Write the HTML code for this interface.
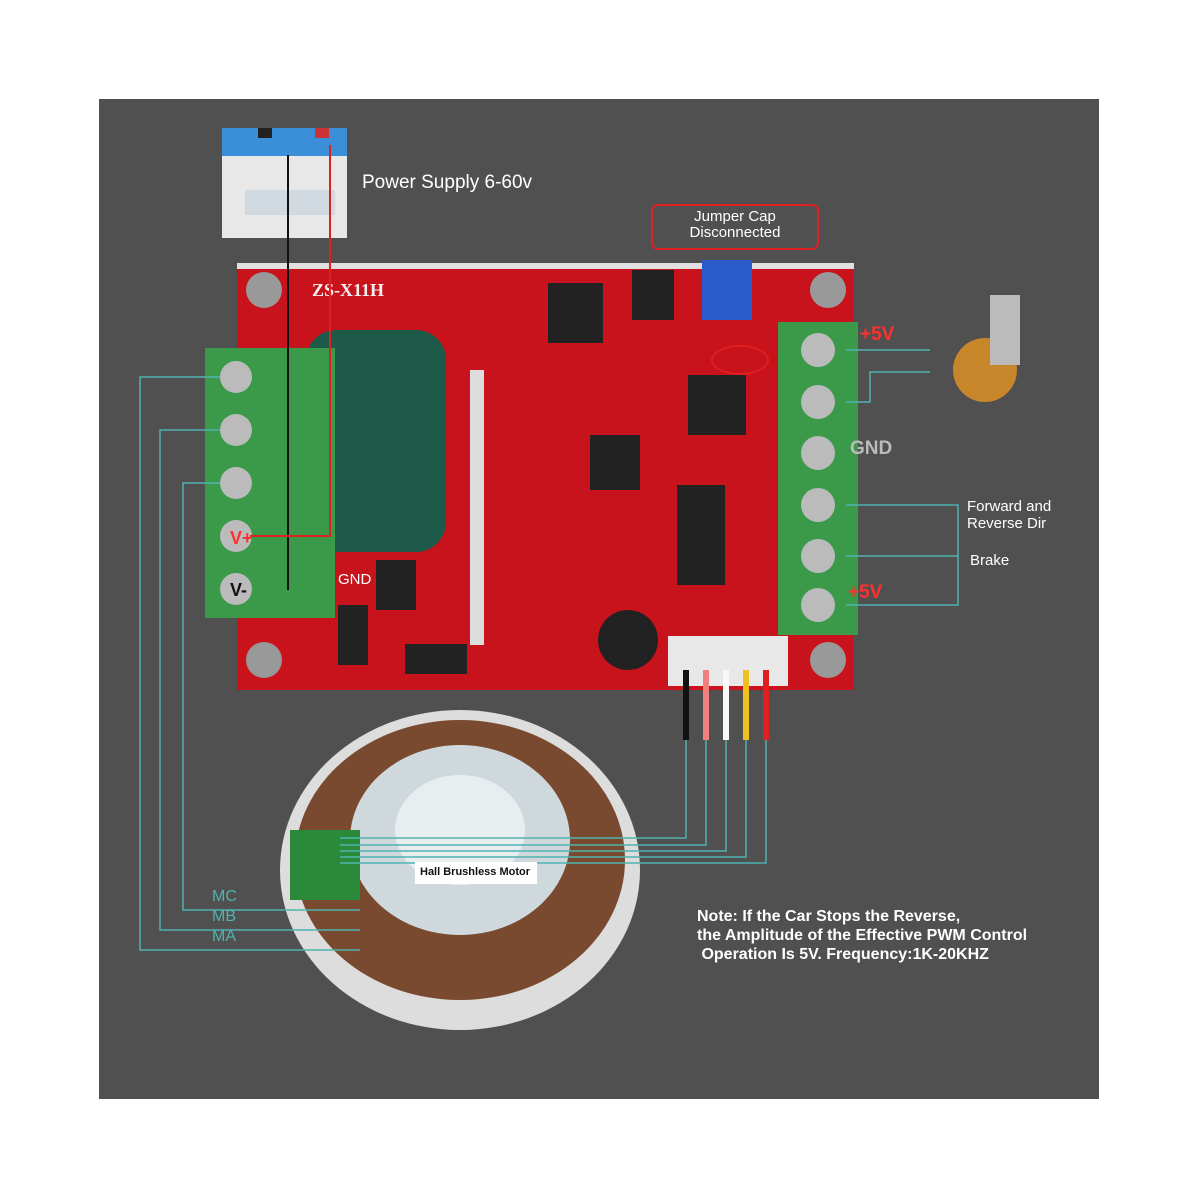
<!DOCTYPE html>
<html><head><meta charset="utf-8"><style>
body{margin:0;width:1200px;height:1200px;background:#fff;position:relative;overflow:hidden;font-family:"Liberation Sans",sans-serif}
.a{position:absolute}
</style></head><body>
<div class="a" style="left:99px;top:99px;width:1000px;height:1000px;background:#505050"></div>
<svg class="a" style="left:0;top:0" width="1200" height="1200">
<!-- battery -->
<rect x="222" y="140" width="125" height="98" fill="#e8e8e8"/>
<rect x="222" y="128" width="125" height="28" fill="#3a8fd8"/>
<rect x="245" y="190" width="90" height="25" fill="#d0d8e0"/>
<rect x="258" y="128" width="14" height="10" fill="#222"/>
<rect x="315" y="128" width="14" height="10" fill="#c33"/>
<!-- PCB -->
<rect x="237" y="263" width="617" height="427" fill="#c8121c"/>
<rect x="237" y="263" width="617" height="6" fill="#e0e0e0"/>
<circle cx="264" cy="290" r="18" fill="#999"/><circle cx="828" cy="290" r="18" fill="#999"/>
<circle cx="264" cy="660" r="18" fill="#999"/><circle cx="828" cy="660" r="18" fill="#999"/>
<text x="312" y="296" fill="#f0f0f0" font-size="18" font-family="Liberation Serif" font-weight="bold">ZS-X11H</text>
<!-- capacitor -->
<rect x="306" y="330" width="140" height="222" rx="30" fill="#1d5a4a"/>
<!-- chips -->
<rect x="548" y="283" width="55" height="60" fill="#222"/>
<rect x="590" y="435" width="50" height="55" fill="#222"/>
<rect x="677" y="485" width="48" height="100" fill="#222"/>
<rect x="688" y="375" width="58" height="60" fill="#222"/>
<rect x="632" y="270" width="42" height="50" fill="#222"/>
<rect x="702" y="260" width="50" height="60" fill="#2a5bc8"/>
<rect x="470" y="370" width="14" height="275" fill="#ddd"/>
<circle cx="628" cy="640" r="30" fill="#222"/>
<rect x="376" y="560" width="40" height="50" fill="#222"/>
<rect x="405" y="644" width="62" height="30" fill="#222"/>
<rect x="338" y="605" width="30" height="60" fill="#222"/>
<text x="338" y="584" fill="#fff" font-size="15">GND</text>
<!-- left terminal -->
<rect x="205" y="348" width="130" height="270" fill="#3a9a4a"/>
<g fill="#bbb"><circle cx="236" cy="377" r="16"/><circle cx="236" cy="430" r="16"/><circle cx="236" cy="483" r="16"/><circle cx="236" cy="536" r="16"/><circle cx="236" cy="589" r="16"/></g>
<text x="230" y="544" fill="#ff3030" font-size="18" font-weight="bold">V+</text>
<text x="230" y="596" fill="#111" font-size="18" font-weight="bold">V-</text>
<!-- right terminal -->
<rect x="778" y="322" width="80" height="313" fill="#3a9a4a"/>
<g fill="#bbb"><circle cx="818" cy="350" r="17"/><circle cx="818" cy="402" r="17"/><circle cx="818" cy="453" r="17"/><circle cx="818" cy="505" r="17"/><circle cx="818" cy="556" r="17"/><circle cx="818" cy="605" r="17"/></g>
<!-- hall connector -->
<rect x="668" y="636" width="120" height="50" fill="#e8e8e8"/>
<g stroke-width="6"><line x1="686" y1="670" x2="686" y2="740" stroke="#111"/><line x1="706" y1="670" x2="706" y2="740" stroke="#f08080"/><line x1="726" y1="670" x2="726" y2="740" stroke="#f8f8f8"/><line x1="746" y1="670" x2="746" y2="740" stroke="#f0c020"/><line x1="766" y1="670" x2="766" y2="740" stroke="#e02020"/></g>
<!-- motor -->
<ellipse cx="460" cy="870" rx="180" ry="160" fill="#ddd"/>
<ellipse cx="460" cy="860" rx="165" ry="140" fill="#7a4a30"/>
<ellipse cx="460" cy="840" rx="110" ry="95" fill="#cfd8dc"/>
<ellipse cx="460" cy="830" rx="65" ry="55" fill="#e8eef0"/>
<rect x="290" y="830" width="70" height="70" fill="#2a8a3a"/>
<!-- wires -->
<g fill="none" stroke="#4fb3b0" stroke-width="1.5">
<polyline points="220,377 140,377 140,950 360,950"/>
<polyline points="220,430 160,430 160,930 360,930"/>
<polyline points="220,483 183,483 183,910 360,910"/>
<polyline points="846,350 930,350"/><polyline points="846,402 870,402 870,372 930,372"/>
<polyline points="846,505 958,505 958,605 846,605"/><polyline points="846,556 958,556"/>
<polyline points="686,740 686,838 340,838"/><polyline points="706,740 706,845 340,845"/><polyline points="726,740 726,851 340,851"/><polyline points="746,740 746,857 340,857"/><polyline points="766,740 766,863 340,863"/>
</g>
<line x1="288" y1="155" x2="288" y2="590" stroke="#111" stroke-width="2"/>
<polyline points="330,145 330,536 250,536" fill="none" stroke="#e02020" stroke-width="2"/>
<!-- pot -->
<circle cx="985" cy="370" r="32" fill="#c8862a"/><rect x="990" y="295" width="30" height="70" fill="#bbb"/>
<rect x="652" y="205" width="166" height="44" rx="6" fill="none" stroke="#e02020" stroke-width="2"/>
<ellipse cx="740" cy="360" rx="28" ry="14" fill="none" stroke="#e02020" stroke-width="2"/>
<rect x="415" y="862" width="122" height="22" fill="#fff"/>
</svg>
<div class="a" style="left:362px;top:172px;color:#fff;font-size:19px">Power Supply 6-60v</div>
<div class="a" style="left:655px;top:209px;width:160px;text-align:center;color:#fff;font-size:15px;line-height:16px">Jumper Cap<br>Disconnected</div>
<div class="a" style="left:860px;top:324px;color:#ff3030;font-size:19px;font-weight:bold">+5V</div>
<div class="a" style="left:850px;top:438px;color:#bbb;font-size:19px;font-weight:bold">GND</div>
<div class="a" style="left:848px;top:582px;color:#ff3030;font-size:19px;font-weight:bold">+5V</div>
<div class="a" style="left:967px;top:498px;color:#fff;font-size:15px;line-height:17px">Forward and<br>Reverse Dir</div>
<div class="a" style="left:970px;top:552px;color:#fff;font-size:15px">Brake</div>
<div class="a" style="left:420px;top:866px;color:#111;font-size:11px;font-weight:bold">Hall Brushless Motor</div>
<div class="a" style="left:212px;top:887px;color:#4fb3b0;font-size:16px;line-height:20px">MC<br>MB<br>MA</div>
<div class="a" style="left:697px;top:907px;color:#fff;font-size:16px;line-height:19px;font-weight:bold">Note: If the Car Stops the Reverse,<br>the Amplitude of the Effective PWM Control<br>&nbsp;Operation Is 5V. Frequency:1K-20KHZ</div>
</body></html>
